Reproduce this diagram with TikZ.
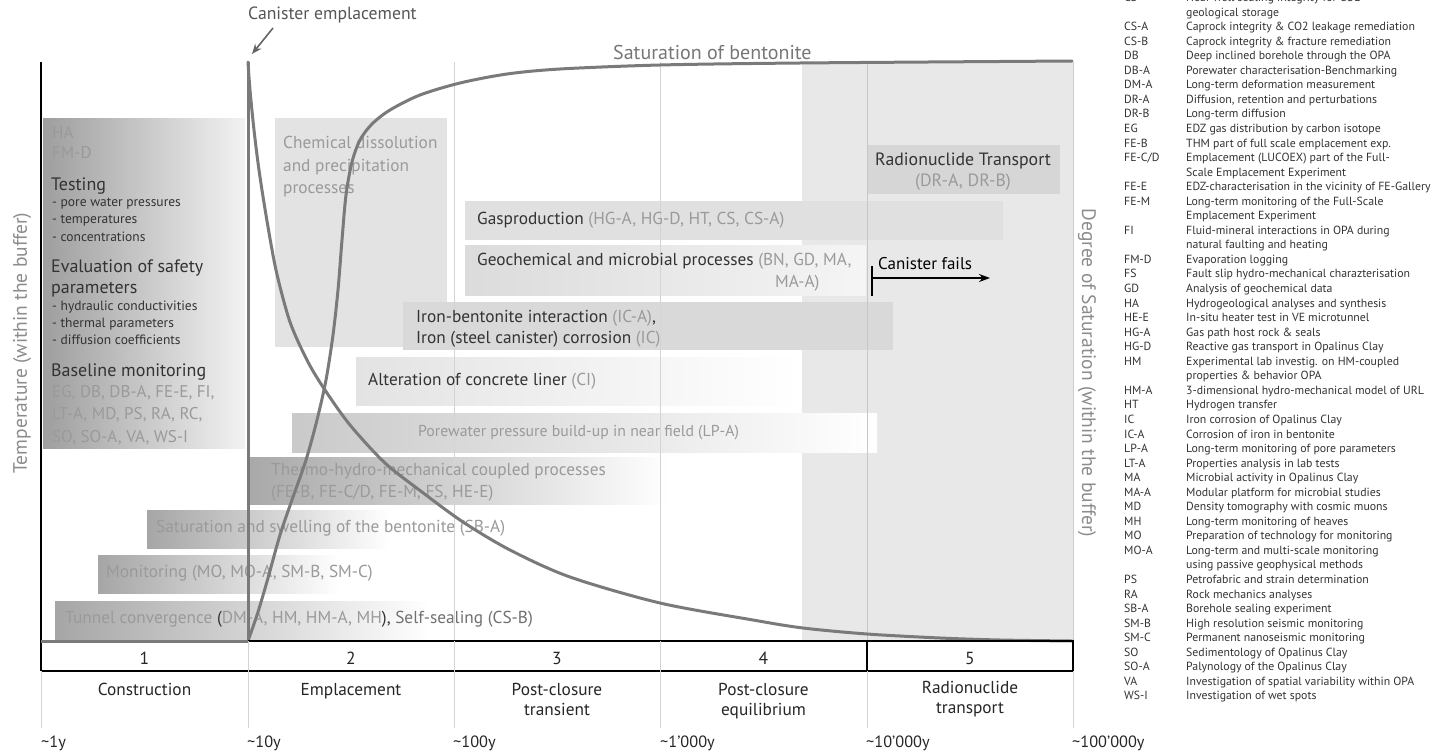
\documentclass[tikz,border=0pt]{standalone}
\usepackage{fontspec}
\setmainfont{PT Sans}
\usetikzlibrary{arrows.meta}

\definecolor{bandgray}{HTML}{E8E8E8}
\definecolor{gridgray}{HTML}{D4D4D4}
\definecolor{curvegray}{HTML}{7A7A7A}
\definecolor{codegray}{HTML}{9A9A9A}
\definecolor{midgray}{HTML}{707070}
\definecolor{darktext}{HTML}{333333}
\definecolor{axisgray}{HTML}{8C8C8C}
\definecolor{headgray}{HTML}{555555}
\definecolor{satgray}{HTML}{777777}
\definecolor{arrowgray}{HTML}{666666}

\newcommand\setfs[1]{\fontsize{#1}{#1}\selectfont}
\newcommand\cg[1]{\textcolor{codegray}{#1}}
\newcommand\tl{\textasciitilde}

% legend rows: index, code, description
\newcommand\legentry[3]{%
  \node[legtxt] (lc#1) at (1124,{-1.5+14.55*#1}) {#2};
  \node[legtxt] (ld#1) at (1186,{-1.5+14.55*#1}) {#3};}
\newcommand\legcont[2]{%
  \node[legtxt] (ld#1) at (1186,{-1.5+14.55*#1}) {#2};}

\begin{document}
\begin{tikzpicture}[x=1pt,y=-1pt,
  lbl/.style={anchor=west,inner sep=0pt,text=darktext,font=\setfs{17.3}},
  glbl/.style={anchor=west,inner sep=0pt,text=codegray,font=\setfs{17.3}},
  head/.style={anchor=west,inner sep=0pt,text=darktext,font=\setfs{18}},
  bullet/.style={anchor=west,inner sep=0pt,text=darktext,font=\setfs{13.5}},
  legtxt/.style={anchor=west,inner sep=0pt,text=darktext,font=\setfs{11.8},
    text height=8.5pt,text depth=2.5pt},
  phase/.style={anchor=north,inner sep=0pt,align=center,text=black!85,
    font=\fontsize{17.3}{20}\selectfont},
  num/.style={inner sep=0pt,text=black!85,font=\setfs{17.5}},
  tlabel/.style={anchor=west,inner sep=0pt,text=black!85,font=\setfs{16.3}},
  curve/.style={draw=curvegray,line width=3pt,line cap=round},
  grid/.style={draw=gridgray,line width=1pt},
  axislbl/.style={inner sep=0pt,text=axisgray,font=\setfs{19.5}}]

\useasboundingbox (0,0) rectangle (1436,755);
\fill[white] (0,0) rectangle (1436,755);

% radionuclide period band
\fill[bandgray] (802,62) rectangle (1073,641);

% process bars
\shade[left color=black!38,right color=black!5] (43,118) rectangle (245,448);
\fill[black!11] (275,118) rectangle (447,347);
\fill[black!16] (867,145) rectangle (1060,194);
\fill[black!12] (465,201) rectangle (1003,240);
\shade[left color=black!14,right color=black!4] (465,245) rectangle (866,295);
\fill[black!15] (403,302) rectangle (893,350);
\shade[left color=black!11,right color=white] (356,357) rectangle (800,405);
\shade[left color=black!21,right color=white] (292,413) rectangle (877,452);
\shade[left color=black!34,right color=white] (248,457) rectangle (670,504);
\shade[left color=black!35,right color=white] (147,510) rectangle (390,548);
\shade[left color=black!35,right color=white] (98,555) rectangle (340,593);
\shade[left color=black!35,right color=white] (55,601) rectangle (430,639);

% time grid
\draw[grid] (454,62) -- (454,641);
\draw[grid] (660,62) -- (660,641);
\draw[draw=black!22,line width=1pt] (867,62) -- (867,641);
\draw[draw=black!20,line width=1pt] (1073,62) -- (1073,641);

% labels of the early column
\node[glbl,font=\setfs{17}] (ha) at (52,132) {HA};
\node[glbl,font=\setfs{17}] (fmd) at (52,153) {FM-D};
\node[head] (testing) at (51,186) {Testing};
\node[bullet] (t1) at (52,204) {- pore water pressures};
\node[bullet] (t2) at (52,221) {- temperatures};
\node[bullet] (t3) at (52,237) {- concentrations};
\node[head] (eval1) at (51,268) {Evaluation of safety};
\node[head] (eval2) at (51,290) {parameters};
\node[bullet] (e1) at (52,307) {- hydraulic conductivities};
\node[bullet] (e2) at (52,324) {- thermal parameters};
\node[bullet] (e3) at (52,340) {- diffusion coefficients};
\node[head] (base) at (51,372) {Baseline monitoring};
\node[glbl,font=\setfs{17}] (b1) at (52,393) {EG, DB, DB-A, FE-E, FI,};
\node[glbl,font=\setfs{17}] (b2) at (52,415) {LT-A, MD, PS, RA, RC,};
\node[glbl,font=\setfs{17}] (b3) at (52,438) {SO, SO-A, VA, WS-I};

% process labels
\node[anchor=north west,inner sep=0pt,align=left,text=codegray,
  font=\fontsize{17.3}{22.5}\selectfont] (chem) at (283,136)
  {Chemical dissolution\\and precipitation\\processes};
\node[anchor=north,inner sep=0pt,align=center,text=darktext,
  font=\fontsize{17.8}{21}\selectfont] (rnt) at (963,153)
  {Radionuclide Transport\\\cg{(DR-A, DR-B)}};
\node[lbl] (gas) at (477,220) {Gasproduction \cg{(HG-A, HG-D, HT, CS, CS-A)}};
\node[lbl] (geo1) at (477,261) {Geochemical and microbial processes \cg{(BN, GD, MA,}};
\node[glbl] (geo2) at (775,283) {MA-A)};
\node[anchor=north west,inner sep=0pt,align=left,text=darktext,
  font=\fontsize{17.3}{20.5}\selectfont] (iron) at (416,310)
  {Iron-bentonite interaction \cg{(IC-A)},\\Iron (steel canister) corrosion \cg{(IC)}};
\node[lbl] (alt) at (368,381) {Alteration of concrete liner \cg{(CI)}};
\node[glbl,font=\setfs{15.8}] (pwp) at (418,433) {Porewater pressure build-up in near field (LP-A)};
\node[anchor=north west,inner sep=0pt,align=left,text=codegray,
  font=\fontsize{17.3}{22}\selectfont] (thm) at (271,463)
  {Thermo-hydro-mechanical coupled processes\\(FE-B, FE-C/D, FE-M, FS, HE-E)};
\node[glbl] (ssb) at (156,528) {Saturation and swelling of the bentonite (SB-A)};
\node[glbl] (mon) at (106,573) {Monitoring (MO, MO-A, SM-B, SM-C)};
\node[glbl] (tun) at (65,619) {Tunnel convergence \textcolor{darktext}{(}DM-A, HM, HM-A, MH\textcolor{darktext}{),} \textcolor{midgray}{Self-sealing (CS-B)}};

% canister failure marker
\node[anchor=west,inner sep=0pt,text=black,font=\setfs{17}] (cfail) at (878,264) {Canister fails};
\coordinate (cfTop) at (872,266);
\coordinate (cfBot) at (872,296);
\coordinate (cfStart) at (872,278);
\coordinate (cfEnd) at (990,278);
\draw[line width=1.3pt] (cfTop) -- (cfBot);
\draw[line width=1.3pt,-{Stealth[length=11pt,width=8pt]}] (cfStart) -- (cfEnd);

% axes
\draw[line width=1.3pt] (41,62) -- (41,671);
\draw[draw=curvegray,line width=3pt] (41,641) -- (248,641);
\draw[draw=curvegray,line width=3pt] (248,62) -- (248,641);

% temperature curve
\draw[curve] plot[smooth,tension=0.5] coordinates {
  (248,62) (250,90) (254,130) (259,170) (266,215) (276,270) (290,322)
  (308,362) (325,390) (350,425) (385,463) (422,492) (463,522) (510,550)
  (570,577) (660,603) (753,620) (803,628) (867,634) (940,638) (1000,640) (1072,641)};

% saturation curve
\draw[curve] plot[smooth,tension=0.5] coordinates {
  (248,641) (258,612) (268,578) (280,535) (293,497) (306,460) (317,420)
  (326,380) (333,335) (338,290) (342,240) (346,195) (352,162) (360,140)
  (372,124) (390,110) (420,95) (460,83) (507,74) (560,69) (660,65) (800,63) (1072,61)};

% headings over the plot
\node[anchor=west,inner sep=0pt,text=headgray,font=\setfs{17.7}] (cemp) at (248,15) {Canister emplacement};
\coordinate (cempTail) at (273,28);
\coordinate (canTop) at (252,54);
\draw[draw=arrowgray,line width=1.6pt,-{Stealth[length=10pt,width=8pt]}] (cempTail) -- (canTop);
\node[anchor=west,inner sep=0pt,text=satgray,font=\setfs{20}] (satlbl) at (613,52) {Saturation of bentonite};

% axis titles
\node[axislbl,rotate=90] (tempax) at (22,343) {Temperature (within the buffer)};
\node[axislbl,rotate=-90] (satax) at (1087,373) {Degree of Saturation (within the buffer)};

% phase table
\draw[line width=1.3pt] (248,641) -- (1073,641) -- (1073,671) -- (41,671);
\draw[draw=gridgray,line width=1pt] (248,641) -- (248,671);
\draw[draw=gridgray,line width=1pt] (454,641) -- (454,671);
\draw[draw=gridgray,line width=1pt] (660,641) -- (660,671);
\draw[line width=1.3pt] (867,641) -- (867,671);
\foreach \xx in {41,248,454,660,867,1073}
  \draw[draw=gridgray,line width=1pt] (\xx,671) -- (\xx,728);

\node[num] (n1) at (144.5,658) {1};
\node[num] (n2) at (351,658) {2};
\node[num] (n3) at (557,658) {3};
\node[num] (n4) at (763.5,658) {4};
\node[num] (n5) at (970,658) {5};

\node[phase] (p1) at (144.5,683) {Construction};
\node[phase] (p2) at (351,683) {Emplacement};
\node[phase] (p3) at (557,683) {Post-closure\\transient};
\node[phase] (p4) at (763.5,683) {Post-closure\\equilibrium};
\node[phase] (p5) at (970,681) {Radionuclide\\transport};

\node[tlabel] (y1) at (41,743) {\tl 1y};
\node[tlabel] (y2) at (247,743) {\tl 10y};
\node[tlabel] (y3) at (453,743) {\tl 100y};
\node[tlabel] (y4) at (660,743) {\tl 1'000y};
\node[tlabel] (y5) at (866,743) {\tl 10'000y};
\node[tlabel] (y6) at (1072,743) {\tl 100'000y};

% abbreviation list
\legentry{0}{CS}{Near well sealing integrity for CO2}
\legcont{1}{geological storage}
\legentry{2}{CS-A}{Caprock integrity \& CO2 leakage remediation}
\legentry{3}{CS-B}{Caprock integrity \& fracture remediation}
\legentry{4}{DB}{Deep inclined borehole through the OPA}
\legentry{5}{DB-A}{Porewater characterisation-Benchmarking}
\legentry{6}{DM-A}{Long-term deformation measurement}
\legentry{7}{DR-A}{Diffusion, retention and perturbations}
\legentry{8}{DR-B}{Long-term diffusion}
\legentry{9}{EG}{EDZ gas distribution by carbon isotope}
\legentry{10}{FE-B}{THM part of full scale emplacement exp.}
\legentry{11}{FE-C/D}{Emplacement (LUCOEX) part of the Full-}
\legcont{12}{Scale Emplacement Experiment}
\legentry{13}{FE-E}{EDZ-characterisation in the vicinity of FE-Gallery}
\legentry{14}{FE-M}{Long-term monitoring of the Full-Scale}
\legcont{15}{Emplacement Experiment}
\legentry{16}{FI}{Fluid-mineral interactions in OPA during}
\legcont{17}{natural faulting and heating}
\legentry{18}{FM-D}{Evaporation logging}
\legentry{19}{FS}{Fault slip hydro-mechanical charazterisation}
\legentry{20}{GD}{Analysis of geochemical data}
\legentry{21}{HA}{Hydrogeological analyses and synthesis}
\legentry{22}{HE-E}{In-situ heater test in VE microtunnel}
\legentry{23}{HG-A}{Gas path host rock \& seals}
\legentry{24}{HG-D}{Reactive gas transport in Opalinus Clay}
\legentry{25}{HM}{Experimental lab investig. on HM-coupled}
\legcont{26}{properties \& behavior OPA}
\legentry{27}{HM-A}{3-dimensional hydro-mechanical model of URL}
\legentry{28}{HT}{Hydrogen transfer}
\legentry{29}{IC}{Iron corrosion of Opalinus Clay}
\legentry{30}{IC-A}{Corrosion of iron in bentonite}
\legentry{31}{LP-A}{Long-term monitoring of pore parameters}
\legentry{32}{LT-A}{Properties analysis in lab tests}
\legentry{33}{MA}{Microbial activity in Opalinus Clay}
\legentry{34}{MA-A}{Modular platform for microbial studies}
\legentry{35}{MD}{Density tomography with cosmic muons}
\legentry{36}{MH}{Long-term monitoring of heaves}
\legentry{37}{MO}{Preparation of technology for monitoring}
\legentry{38}{MO-A}{Long-term and multi-scale monitoring}
\legcont{39}{using passive geophysical methods}
\legentry{40}{PS}{Petrofabric and strain determination}
\legentry{41}{RA}{Rock mechanics analyses}
\legentry{42}{SB-A}{Borehole sealing experiment}
\legentry{43}{SM-B}{High resolution seismic monitoring}
\legentry{44}{SM-C}{Permanent nanoseismic monitoring}
\legentry{45}{SO}{Sedimentology of Opalinus Clay}
\legentry{46}{SO-A}{Palynology of the Opalinus Clay}
\legentry{47}{VA}{Investigation of spatial variability within OPA}
\legentry{48}{WS-I}{Investigation of wet spots}

\end{tikzpicture}
\end{document}
